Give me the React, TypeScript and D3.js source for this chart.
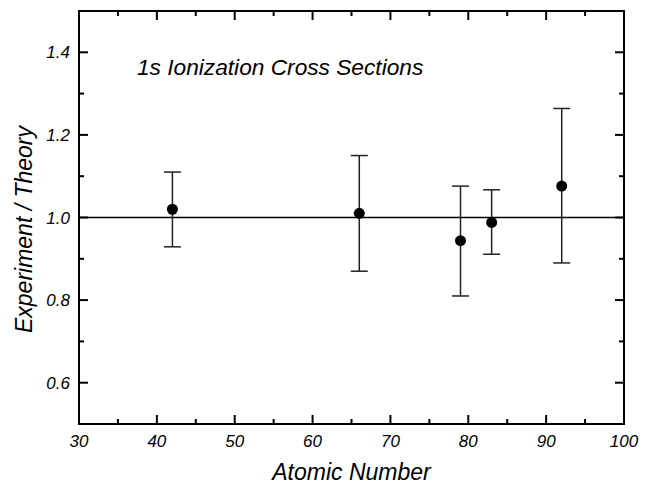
import React from "react";
import * as d3 from "d3";

const atomicNumbers = [42, 66, 79, 83, 92];
const ratios = [1.02, 1.01, 0.944, 0.988, 1.076];
const upperErr = [1.11, 1.15, 1.076, 1.067, 1.264];
const lowerErr = [0.929, 0.87, 0.81, 0.911, 0.89];
const xMajorTicks = [30, 40, 50, 60, 70, 80, 90, 100];
const xMinorTicks = [35, 45, 55, 65, 75, 85, 95];
const yMajorTicks = [0.6, 0.8, 1.0, 1.2, 1.4];
const yMinorTicks = [0.7, 0.9, 1.1, 1.3];
const referenceValue = 1.0;

const W = 650;
const H = 485;
const left = 79;
const right = 624;
const top = 11;
const bottom = 424;
const FONT = "'Liberation Sans', Arial, sans-serif";

export default function App() {
  const x = d3.scaleLinear().domain([30, 100]).range([left, right]);
  const y = d3.scaleLinear().domain([0.5, 1.5]).range([bottom, top]);
  const fmtY = d3.format(".1f");

  return (
    <svg
      width={W}
      height={H}
      style={{ position: "absolute", left: 0, top: 0, background: "#fff" }}
      fontFamily={FONT}
    >
      {/* reference line */}
      <line x1={left} x2={right} y1={y(referenceValue)} y2={y(referenceValue)} stroke="#000" strokeWidth={1.5} />

      {/* error bars and points */}
      {atomicNumbers.map((z, i) => (
        <g key={z}>
          <line x1={x(z)} x2={x(z)} y1={y(upperErr[i])} y2={y(lowerErr[i])} stroke="#222" strokeWidth={1.5} />
          <line x1={x(z) - 8.5} x2={x(z) + 8.5} y1={y(upperErr[i])} y2={y(upperErr[i])} stroke="#222" strokeWidth={1.5} />
          <line x1={x(z) - 8.5} x2={x(z) + 8.5} y1={y(lowerErr[i])} y2={y(lowerErr[i])} stroke="#222" strokeWidth={1.5} />
          <circle cx={x(z)} cy={y(ratios[i])} r={5.5} fill="#000" />
        </g>
      ))}

      {/* ticks */}
      {xMajorTicks.map((t) => (
        <g key={"xM" + t}>
          <line x1={x(t)} x2={x(t)} y1={bottom} y2={bottom - 9} stroke="#000" strokeWidth={2} />
          <line x1={x(t)} x2={x(t)} y1={top} y2={top + 9} stroke="#000" strokeWidth={2} />
          <text x={x(t)} y={447} textAnchor="middle" fontSize={17} fontStyle="italic" fill="#000">
            {t}
          </text>
        </g>
      ))}
      {xMinorTicks.map((t) => (
        <g key={"xm" + t}>
          <line x1={x(t)} x2={x(t)} y1={bottom} y2={bottom - 5} stroke="#000" strokeWidth={2} />
          <line x1={x(t)} x2={x(t)} y1={top} y2={top + 5} stroke="#000" strokeWidth={2} />
        </g>
      ))}
      {yMajorTicks.map((t) => (
        <g key={"yM" + t}>
          <line x1={left} x2={left + 9} y1={y(t)} y2={y(t)} stroke="#000" strokeWidth={2} />
          <line x1={right} x2={right - 9} y1={y(t)} y2={y(t)} stroke="#000" strokeWidth={2} />
          <text x={70} y={y(t) + 6} textAnchor="end" fontSize={17} fontStyle="italic" fill="#000">
            {fmtY(t)}
          </text>
        </g>
      ))}
      {yMinorTicks.map((t) => (
        <g key={"ym" + t}>
          <line x1={left} x2={left + 5} y1={y(t)} y2={y(t)} stroke="#000" strokeWidth={2} />
          <line x1={right} x2={right - 5} y1={y(t)} y2={y(t)} stroke="#000" strokeWidth={2} />
        </g>
      ))}

      {/* frame */}
      <rect x={left} y={top} width={right - left} height={bottom - top} fill="none" stroke="#000" strokeWidth={2} />

      {/* title */}
      <text x={137} y={75} fontSize={22.7} fontStyle="italic" fill="#000">
        1s Ionization Cross Sections
      </text>

      {/* axis labels */}
      <text x={(left + right) / 2} y={480} textAnchor="middle" fontSize={23} fontStyle="italic" fill="#000">
        Atomic Number
      </text>
      <text
        transform={`translate(32, ${y(1.0) + 12}) rotate(-90)`}
        textAnchor="middle"
        fontSize={23}
        fontStyle="italic"
        fill="#000"
      >
        Experiment / Theory
      </text>
    </svg>
  );
}
